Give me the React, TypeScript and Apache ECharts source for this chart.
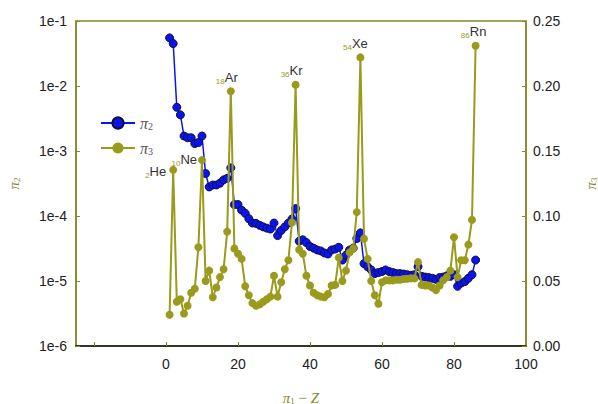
import React, { useEffect, useRef } from "react";
import * as echarts from "echarts";

// x: pi1 - Z (atomic number positions)
const zValues = [
  1, 2, 3, 4, 5, 6, 7, 8, 9, 10, 11, 12, 13, 14, 15, 16, 17, 18, 19, 20,
  21, 22, 23, 24, 25, 26, 27, 28, 29, 30, 31, 32, 33, 34, 35, 36, 37, 38, 39, 40,
  41, 42, 43, 44, 45, 46, 47, 48, 49, 50, 51, 52, 53, 54, 55, 56, 57, 58, 59, 60,
  61, 62, 63, 64, 65, 66, 67, 68, 69, 70, 71, 72, 73, 74, 75, 76, 77, 78, 79, 80,
  81, 82, 83, 84, 85, 86,
];

// pi2 (left log axis)
const pi2Values = [
  0.055, 0.045, 0.0047, 0.0036, 0.0017, 0.0016, 0.0016, 0.0013, 0.00135, 0.0017,
  0.00045, 0.00028, 0.0003, 0.0003, 0.00032, 0.00036, 0.00038, 0.00055, 0.00015, 0.00015,
  0.000123, 0.00011, 0.000091, 0.000078, 0.000077, 0.000072, 0.000068, 0.000065, 0.000063, 0.000078,
  0.00005, 0.00006, 0.000068, 0.000078, 0.00009, 0.00013, 0.000041, 0.000043, 0.000039, 0.000034,
  0.000032, 0.00003, 0.000029, 0.000027, 0.000026, 0.00003, 0.000031, 0.000033, 0.000021, 0.000025,
  0.00003, 0.000032, 0.000045, 0.000055, 0.0000185, 0.0000166, 0.0000148, 0.000013, 0.0000135, 0.000014,
  0.0000148, 0.000014, 0.0000135, 0.000013, 0.000013, 0.0000128, 0.0000125, 0.0000122, 0.0000125, 0.0000166,
  0.0000118, 0.0000115, 0.0000113, 0.000011, 0.0000106, 0.0000113, 0.0000115, 0.000012, 0.0000118, 0.0000125,
  0.0000083, 0.0000093, 0.0000098, 0.000011, 0.0000125, 0.000021,
];

// pi3 (right linear axis)
const pi3Values = [
  0.024, 0.1355, 0.034, 0.036, 0.025, 0.031, 0.041, 0.044, 0.076, 0.143,
  0.05, 0.058, 0.0375, 0.045, 0.053, 0.059, 0.088, 0.196, 0.075, 0.071,
  0.067, 0.046, 0.039, 0.033, 0.031, 0.032, 0.034, 0.036, 0.038, 0.054,
  0.038, 0.049, 0.059, 0.066, 0.095, 0.201, 0.074, 0.071, 0.054, 0.0465,
  0.041, 0.039, 0.038, 0.0375, 0.04, 0.0465, 0.047, 0.068, 0.05, 0.058,
  0.072, 0.075, 0.103, 0.222, 0.0825, 0.067, 0.05, 0.039, 0.0325, 0.049,
  0.0505, 0.0505, 0.0505, 0.051, 0.051, 0.0515, 0.0517, 0.052, 0.052, 0.0645,
  0.047, 0.0465, 0.0465, 0.045, 0.043, 0.0465, 0.0505, 0.053, 0.058, 0.0837,
  0.053, 0.066, 0.066, 0.078, 0.097, 0.231,
];

const nobleZ = [2, 10, 18, 36, 54, 86];
const nobleSymbols = ["He", "Ne", "Ar", "Kr", "Xe", "Rn"];

const xTickValues = [-20, 0, 20, 40, 60, 80, 100];
const xLabelValues = [0, 20, 40, 60, 80, 100];

const OLIVE = "#9a9a1c";
const AXIS_OLIVE = "#86862a";
const BLUE = "#0a14f0";

const labelLayout: Record<string, any> = {
  He: { position: "left", distance: 3, offset: [0, 2] },
  Ne: { position: "left", distance: 1, offset: [0, -1] },
  Ar: { position: "top", distance: 2, offset: [-4, 0] },
  Kr: { position: "top", distance: 2, offset: [-4, 0] },
  Xe: { position: "top", distance: 2, offset: [-5, 0] },
  Rn: { position: "top", distance: 2, offset: [-2, 0] },
};

export default function App() {
  const ref = useRef<HTMLDivElement>(null);
  useEffect(() => {
    if (!ref.current) return;
    const chart = echarts.init(ref.current, null, { renderer: "svg" });

    const pi2Data = zValues.map((z, i) => [z, pi2Values[i]]);
    const pi3Data = zValues.map((z, i) => {
      const k = nobleZ.indexOf(z);
      if (k < 0) return [z, pi3Values[i]];
      const sym = nobleSymbols[k];
      return {
        value: [z, pi3Values[i]],
        label: {
          show: true,
          ...labelLayout[sym],
          formatter: `{sub|${z}}{el|${sym}}`,
          rich: {
            sub: {
              fontSize: 8,
              color: OLIVE,
              fontFamily: "Liberation Sans",
              verticalAlign: "bottom",
              lineHeight: 8,
            },
            el: {
              fontSize: 13,
              color: "#333",
              fontFamily: "Liberation Sans",
              lineHeight: 16,
            },
          },
        },
      };
    });

    const nameRich = {
      i: { fontFamily: "Liberation Serif", fontStyle: "italic", fontSize: 15, color: AXIS_OLIVE },
      s: { fontFamily: "Liberation Serif", fontSize: 9, color: AXIS_OLIVE, verticalAlign: "bottom", lineHeight: 9 },
    };

    chart.setOption({
      animation: false,
      grid: {
        left: 76,
        right: 72,
        top: 21,
        bottom: 58,
        show: true,
        borderColor: AXIS_OLIVE,
        borderWidth: 1.5,
        backgroundColor: "transparent",
        containLabel: false,
        outerBoundsMode: "none",
      },
      legend: {
        orient: "vertical",
        left: 95,
        top: 110,
        itemWidth: 34,
        itemHeight: 14,
        itemGap: 9,
        data: ["pi2", "pi3"],
        formatter: (name: string) =>
          name === "pi2" ? "{i|π}{s|2}" : "{i|π}{s|3}",
        textStyle: {
          rich: {
            i: { fontFamily: "Liberation Serif", fontStyle: "italic", fontSize: 16, color: "#555" },
            s: { fontFamily: "Liberation Serif", fontSize: 10, color: "#555", verticalAlign: "bottom", lineHeight: 10 },
          },
        },
      },
      xAxis: {
        type: "value",
        min: -25,
        max: 100,
        axisLine: { show: true, onZero: false, lineStyle: { color: "#111", width: 1.5 } },
        axisTick: {
          show: true,
          inside: true,
          length: 4,
          customValues: xTickValues,
          lineStyle: { color: AXIS_OLIVE },
        },
        axisLabel: {
          customValues: xLabelValues,
          fontSize: 14,
          fontFamily: "Liberation Sans",
          color: "#222",
          margin: 11,
        },
        splitLine: { show: false },
        name: "{i|π}{s|1}{t| − }{i|Z}",
        nameLocation: "middle",
        nameGap: 44,
        nameTextStyle: { rich: { ...nameRich, t: { fontFamily: "Liberation Serif", fontSize: 15, color: AXIS_OLIVE } } },
      },
      yAxis: [
        {
          type: "log",
          logBase: 10,
          min: 1e-6,
          max: 1e-1,
          position: "left",
          axisLine: { show: true, onZero: false, lineStyle: { color: AXIS_OLIVE, width: 1.5 } },
          axisTick: { show: true, inside: true, length: 4, lineStyle: { color: AXIS_OLIVE } },
          axisLabel: {
            fontSize: 14,
            fontFamily: "Liberation Sans",
            color: "#222",
            margin: 9,
            formatter: (v: number) => "1e" + Math.round(Math.log10(v)),
          },
          splitLine: { show: false },
          minorTick: { show: false },
          name: "{i|π}{s|2}",
          nameLocation: "middle",
          nameGap: 55,
          nameRotate: 90,
          nameTextStyle: { rich: nameRich },
        },
        {
          type: "value",
          min: 0,
          max: 0.25,
          interval: 0.05,
          position: "right",
          axisLine: { show: true, onZero: false, lineStyle: { color: AXIS_OLIVE, width: 1.5 } },
          axisTick: { show: true, inside: true, length: 4, lineStyle: { color: AXIS_OLIVE } },
          axisLabel: {
            fontSize: 14,
            fontFamily: "Liberation Sans",
            color: "#222",
            margin: 7,
            formatter: (v: number) => v.toFixed(2),
          },
          splitLine: { show: false },
          name: "{i|π}{s|3}",
          nameLocation: "middle",
          nameGap: 57,
          nameRotate: 90,
          nameTextStyle: { rich: nameRich },
        },
      ],
      series: [
        {
          name: "pi2",
          type: "line",
          yAxisIndex: 0,
          data: pi2Data,
          symbol: "circle",
          symbolSize: 8,
          lineStyle: { color: BLUE, width: 1.5 },
          itemStyle: { color: BLUE, borderColor: "#101040", borderWidth: 1 },
          z: 2,
        },
        {
          name: "pi3",
          type: "line",
          yAxisIndex: 1,
          data: pi3Data,
          symbol: "circle",
          symbolSize: 8,
          lineStyle: { color: OLIVE, width: 2 },
          itemStyle: { color: OLIVE, borderColor: OLIVE, borderWidth: 0 },
          z: 3,
        },
      ],
    });
    return () => chart.dispose();
  }, []);

  return (
    <div
      ref={ref}
      style={{ position: "absolute", left: 0, top: 0, width: 598, height: 404, background: "#fff" }}
    />
  );
}
